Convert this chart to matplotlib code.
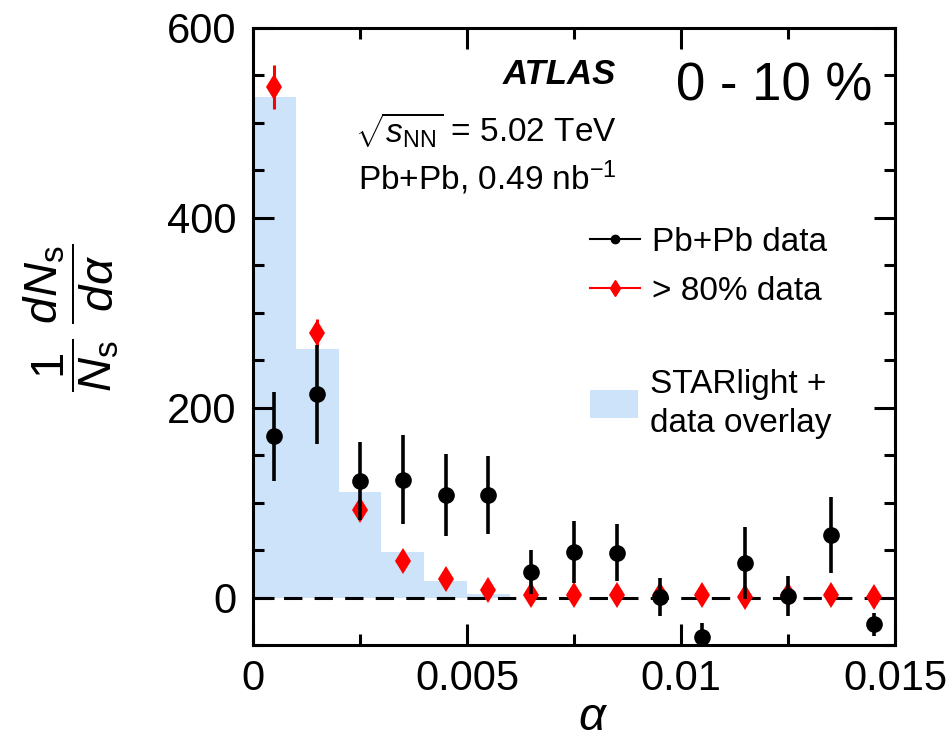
import matplotlib
matplotlib.use("Agg")
import matplotlib.pyplot as plt
import matplotlib.ticker as mticker
from matplotlib.lines import Line2D
from matplotlib.patches import Patch
import numpy as np

# alpha bins (width 0.001)
bin_edges = np.linspace(0.0, 0.015, 16)
bin_centers = 0.5 * (bin_edges[:-1] + bin_edges[1:])

# Pb+Pb data, 0-10% centrality
pbpb_y = [170, 214, 123, 124, 108, 108, 27, 48, 47, 1, -42, 36, 2, 66, -28]
pbpb_err = [47, 52, 41, 47, 43, 41, 23, 33, 30, 20, 15, 38, 21, 40, 12]

# > 80% centrality data
periph_y = [538, 279, 92, 38, 20, 8, 3, 3, 3, 3, 3, 1, 3, 3, 1]
periph_err = [23, 14, 8, 6, 5, 4, 3, 3, 3, 3, 3, 3, 3, 3, 3]

# STARlight + data overlay template
starlight = [527, 262, 111, 48, 17, 4, 0, 0, 0, 0, 0, 0, 0, 0, 0]

x_ticks = [0.0, 0.005, 0.01, 0.015]
x_ticklabels = ["0", "0.005", "0.01", "0.015"]
y_ticks = [0, 200, 400, 600]
y_ticklabels = ["0", "200", "400", "600"]

COLOR_FILL = "#cce3fa"
COLOR_RED = "#ff0000"

plt.rcParams.update({
    "font.family": ["Liberation Sans", "DejaVu Sans"],
    "mathtext.fontset": "custom",
    "mathtext.rm": "Liberation Sans",
    "mathtext.it": "Liberation Sans:italic",
    "mathtext.bf": "Liberation Sans:bold",
    "axes.linewidth": 2.2,
})

fig = plt.figure(figsize=(9.49, 7.48), dpi=100)
ax = fig.add_axes([0.2666, 0.1377, 0.6765, 0.8249])

# template histogram
ax.stairs(starlight, bin_edges, fill=True, color=COLOR_FILL, lw=0, zorder=1)

# zero line
ax.axhline(0, color="black", lw=2.2, ls=(0, (6, 4)), zorder=2)

# > 80% data
ax.errorbar(bin_centers, periph_y, yerr=periph_err, fmt="d", color=COLOR_RED,
            ms=13, mew=0, elinewidth=2.2, capsize=0, zorder=3)

# Pb+Pb data
ax.errorbar(bin_centers, pbpb_y, yerr=pbpb_err, fmt="o", color="black",
            ms=12, mew=0, elinewidth=2.6, capsize=0, zorder=4)

ax.set_xlim(0, 0.015)
ax.set_ylim(-50, 600)

ax.xaxis.set_major_locator(mticker.FixedLocator(x_ticks))
ax.xaxis.set_major_formatter(mticker.FixedFormatter(x_ticklabels))
ax.xaxis.set_minor_locator(mticker.MultipleLocator(0.0025))
ax.yaxis.set_major_locator(mticker.FixedLocator(y_ticks))
ax.yaxis.set_major_formatter(mticker.FixedFormatter(y_ticklabels))
ax.yaxis.set_minor_locator(mticker.MultipleLocator(50))

ax.tick_params(which="both", direction="in", top=True, right=True,
               width=2.2, labelsize=30)
ax.tick_params(which="major", length=15)
ax.tick_params(which="minor", length=8)
ax.tick_params(axis="x", which="major", pad=10)
ax.tick_params(axis="y", which="major", pad=12)

ax.set_xlabel(r"$\alpha$", fontsize=34)
ax.xaxis.set_label_coords(0.53, -0.082)
ax.set_ylabel(r"$\dfrac{1}{N_{\mathrm{s}}}\;\dfrac{dN_{\mathrm{s}}}{d\alpha}$",
              fontsize=34)
ax.yaxis.set_label_coords(-0.205, 0.53)

# annotations
ax.text(0.566, 0.925, "ATLAS", transform=ax.transAxes, ha="right", va="center",
        fontsize=25, fontweight="bold", fontstyle="italic")
ax.text(0.964, 0.905, "0 - 10 %", transform=ax.transAxes, ha="right",
        va="center", fontsize=38)
ax.text(0.566, 0.835, r"$\sqrt{s_{\mathrm{NN}}}$ = 5.02 TeV",
        transform=ax.transAxes, ha="right", va="center", fontsize=24)
ax.text(0.566, 0.757, r"Pb+Pb, 0.49 nb$^{\mathrm{-1}}$",
        transform=ax.transAxes, ha="right", va="center", fontsize=24)

# legends
h_data = [
    Line2D([], [], color="black", marker="o", ms=6, lw=1.5),
    Line2D([], [], color=COLOR_RED, marker="d", ms=8, lw=1.5),
]
leg1 = ax.legend(h_data, ["Pb+Pb data", "> 80% data"], loc="upper left",
                 bbox_to_anchor=(0.525, 0.678), frameon=False, fontsize=24,
                 handlelength=1.5, handletextpad=0.35, labelspacing=0.55,
                 borderpad=0, borderaxespad=0)
ax.add_artist(leg1)
ax.legend([Patch(facecolor=COLOR_FILL, edgecolor="none")],
          ["STARlight +\ndata overlay"], loc="upper left",
          bbox_to_anchor=(0.525, 0.448), frameon=False, fontsize=24,
          handlelength=1.45, handleheight=0.9, handletextpad=0.35,
          borderpad=0, borderaxespad=0)
for t in ax.get_legend().get_texts():
    t.set_linespacing(1.35)

fig.savefig("out.png", dpi=100)
